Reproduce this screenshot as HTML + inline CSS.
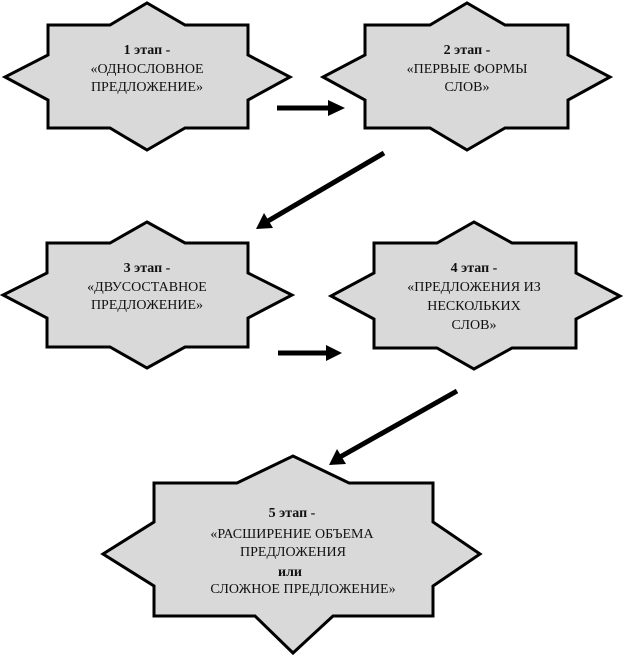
<!DOCTYPE html>
<html><head><meta charset="utf-8"><style>
html,body{margin:0;padding:0;background:#fff;}
svg{display:block;}
text{font-family:"Liberation Serif","Times New Roman","DejaVu Serif",serif;font-size:14px;fill:#111;text-anchor:middle;}
</style></head><body>
<svg width="624" height="658" viewBox="0 0 624 658" xmlns="http://www.w3.org/2000/svg">
<g fill="#d9d9d9" stroke="#000" stroke-width="3" stroke-linejoin="miter">
<polygon points="48,25 110,25 147,3 185,25 248,25 248,55 290,77 248,100 248,128 185,128 147,150 110,128 48,128 48,100 5,77 48,55"/>
<polygon points="365,25 430,25 467,3 505,25 568,25 568,55 610,77 568,100 568,128 505,128 467,150 430,128 365,128 365,100 323,77 365,55"/>
<polygon points="47,243 110,243 147,222 185,243 248,243 248,273 292,295 248,318 248,347 185,347 147,368 110,347 47,347 47,318 3,295 47,273"/>
<polygon points="374,243 437,243 474,222 512,243 576,243 576,273 620,296 576,319 576,348 512,348 474,369 437,348 374,348 374,319 331,296 374,273"/>
<polygon points="154,483 237,483 293,456 349,483 433,483 433,522 480,554 433,586 433,616 333,616 293,653 255,616 154,616 154,586 103,554 154,522"/>
</g>
<g stroke="#000" stroke-width="5">
<line x1="277" y1="108" x2="330" y2="108"/>
<line x1="278" y1="353" x2="330" y2="353"/>
<line x1="384" y1="153" x2="268" y2="221"/>
<line x1="457" y1="391" x2="340" y2="457"/>
</g>
<g fill="#000">
<polygon points="345,108 328,100 328,116"/>
<polygon points="342,353 326,345 326,361"/>
<polygon points="256,229 264,213 273,228"/>
<polygon points="329,465 337,449 346,464"/>
</g>
<g font-weight="bold">
<text x="147" y="54">1 этап -</text>
<text x="467" y="54">2 этап -</text>
<text x="147" y="272">3 этап -</text>
<text x="474" y="272">4 этап -</text>
<text x="292" y="517">5 этап -</text>
<text x="290" y="576">или</text>
</g>
<text x="147" y="73">«ОДНОСЛОВНОЕ</text>
<text x="147" y="91">ПРЕДЛОЖЕНИЕ»</text>
<text x="467" y="73">«ПЕРВЫЕ ФОРМЫ</text>
<text x="467" y="91">СЛОВ»</text>
<text x="147" y="291">«ДВУСОСТАВНОЕ</text>
<text x="147" y="309">ПРЕДЛОЖЕНИЕ»</text>
<text x="474" y="291">«ПРЕДЛОЖЕНИЯ ИЗ</text>
<text x="474" y="310">НЕСКОЛЬКИХ</text>
<text x="474" y="329">СЛОВ»</text>
<text x="292" y="538">«РАСШИРЕНИЕ ОБЪЕМА</text>
<text x="293" y="556">ПРЕДЛОЖЕНИЯ</text>
<text x="303" y="593">СЛОЖНОЕ ПРЕДЛОЖЕНИЕ»</text>
</svg>
</body></html>
